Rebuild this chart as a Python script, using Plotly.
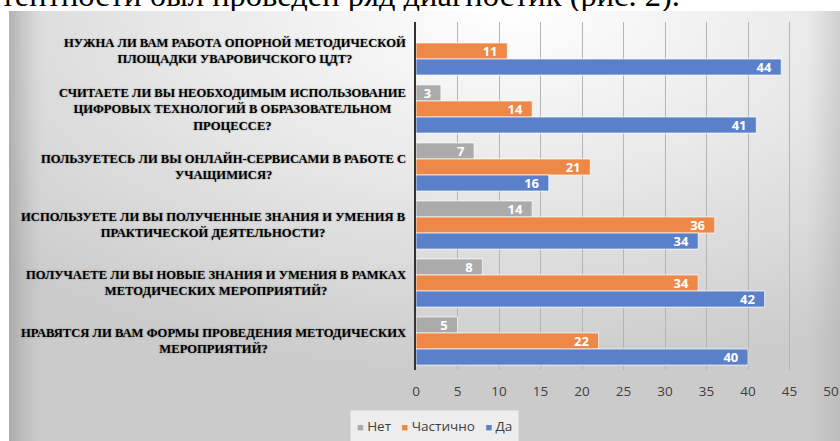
import base64
import plotly.graph_objects as go

# ---------------- data ----------------
categories = [
    "НУЖНА ЛИ ВАМ РАБОТА ОПОРНОЙ МЕТОДИЧЕСКОЙ<br>ПЛОЩАДКИ УВАРОВИЧСКОГО ЦДТ?",
    "СЧИТАЕТЕ ЛИ ВЫ НЕОБХОДИМЫМ ИСПОЛЬЗОВАНИЕ<br>ЦИФРОВЫХ ТЕХНОЛОГИЙ В ОБРАЗОВАТЕЛЬНОМ<br>ПРОЦЕССЕ?",
    "ПОЛЬЗУЕТЕСЬ ЛИ ВЫ ОНЛАЙН-СЕРВИСАМИ В РАБОТЕ С<br>УЧАЩИМИСЯ?",
    "ИСПОЛЬЗУЕТЕ ЛИ ВЫ ПОЛУЧЕННЫЕ ЗНАНИЯ И УМЕНИЯ В<br>ПРАКТИЧЕСКОЙ ДЕЯТЕЛЬНОСТИ?",
    "ПОЛУЧАЕТЕ ЛИ ВЫ НОВЫЕ ЗНАНИЯ И УМЕНИЯ В РАМКАХ<br>МЕТОДИЧЕСКИХ МЕРОПРИЯТИЙ?",
    "НРАВЯТСЯ ЛИ ВАМ ФОРМЫ ПРОВЕДЕНИЯ МЕТОДИЧЕСКИХ<br>МЕРОПРИЯТИЙ?",
]
series_names = ["Нет", "Частично", "Да"]
net = [0, 3, 7, 14, 8, 5]
chastichno = [11, 14, 21, 36, 34, 22]
da = [44, 41, 16, 34, 42, 40]
x_ticks = [0, 5, 10, 15, 20, 25, 30, 35, 40, 45, 50]
doc_text = "компетентности был проведен ряд диагностик (рис. 2)."

colors = ["#ababab", "#ee8847", "#5a80ca"]
W, H = 840, 441

# ---------------- background gradient (chart box) ----------------
svg = (
    "<svg xmlns='http://www.w3.org/2000/svg' width='831' height='430' "
    "viewBox='0 0 831 430' preserveAspectRatio='none'>"
    "<defs>"
    "<radialGradient id='g' cx='0.6' cy='0.0' r='0.85' fx='0.6' fy='0.0'>"
    "<stop offset='0' stop-color='#ffffff'/>"
    "<stop offset='0.45' stop-color='#e9e9e9'/>"
    "<stop offset='1' stop-color='#cbcbcb'/>"
    "</radialGradient>"
    "<linearGradient id='l' x1='0' x2='1' y1='0' y2='0'>"
    "<stop offset='0' stop-color='#8f8f8f' stop-opacity='0.55'/>"
    "<stop offset='0.04' stop-color='#b0b0b0' stop-opacity='0.0'/>"
    "<stop offset='0.96' stop-color='#b0b0b0' stop-opacity='0.0'/>"
    "<stop offset='1' stop-color='#a0a0a0' stop-opacity='0.35'/>"
    "</linearGradient>"
    "</defs>"
    "<rect width='831' height='430' fill='url(#g)'/>"
    "<rect width='831' height='430' fill='url(#l)'/>"
    "</svg>"
)
svg_uri = "data:image/svg+xml;base64," + base64.b64encode(svg.encode("utf-8")).decode()

SERIF = "Liberation Serif"
SANS = "Open Sans, Noto Sans, sans-serif"

fig = go.Figure()

for name, vals, col in zip(series_names, [net, chastichno, da], colors):
    fig.add_trace(go.Bar(
        name=name, y=categories, x=vals, orientation="h",
        marker=dict(color=col, line=dict(color="rgba(255,255,255,0.7)", width=1)),
        text=[(str(v) + "\u00a0\u00a0") if v else "" for v in vals],
        textposition="inside", insidetextanchor="end", textangle=0, constraintext="none",
        textfont=dict(family=SANS, size=13, color="white", weight="bold"),
        xaxis="x", yaxis="y", hoverinfo="skip", showlegend=False,
    ))

# document text strip above the chart (clipped to its own strip)
fig.add_trace(go.Scatter(
    x=[680], y=[13.5], mode="text", text=[doc_text], textposition="middle left",
    textfont=dict(family=SERIF, size=32.5, color="black"),
    xaxis="x2", yaxis="y2", showlegend=False, cliponaxis=True, hoverinfo="skip",
))

annotations = []
for c in categories:
    annotations.append(dict(
        xref="paper", yref="y", x=408 / W, y=c, text=c,
        xanchor="right", yanchor="middle", align="center", showarrow=False,
        font=dict(family=SERIF, size=12.6, color="black", weight="bold",
                  shadow="0px 0px 2px rgba(0,0,0,0.4)"),
    ))

# compact legend built from the series names / colours
legend_parts = [f"<span style='color:{col};font-size:11px'>■</span> {name}"
                for name, col in zip(series_names, colors)]
annotations.append(dict(
    xref="paper", yref="paper", x=434 / W, y=(H - 426) / H,
    xanchor="center", yanchor="middle", showarrow=False,
    text="\u00a0\u00a0\u00a0".join(legend_parts),
    font=dict(family=SANS, size=13.5, color="#404040"),
    bgcolor="rgba(243,243,243,0.85)", borderpad=6,
))

fig.update_layout(
    width=W, height=H, margin=dict(l=0, r=0, t=0, b=0),
    paper_bgcolor="white", plot_bgcolor="rgba(0,0,0,0)",
    barmode="group", bargap=0.17, bargroupgap=0.0,
    images=[dict(source=svg_uri, xref="paper", yref="paper",
                 x=9 / W, y=(H - 11) / H, sizex=(W - 9) / W, sizey=(H - 11) / H,
                 sizing="stretch", xanchor="left", yanchor="top", layer="below")],
    xaxis=dict(domain=[416 / W, 831 / W], range=[0, 50], tickvals=x_ticks,
               showgrid=True, gridcolor="#b5b5b5", gridwidth=1, zeroline=False,
               showline=False, ticks="", ticklabelstandoff=11,
               tickfont=dict(family=SANS, size=13.5, color="#404040"),
               anchor="y", fixedrange=True, automargin=False),
    yaxis=dict(domain=[(H - 370) / H, (H - 22) / H], autorange="reversed",
               categoryorder="array", categoryarray=categories,
               showticklabels=False, showgrid=False, zeroline=False,
               showline=True, linecolor="#333333", linewidth=1.5,
               anchor="x", fixedrange=True, automargin=False),
    xaxis2=dict(domain=[0, 1], range=[0, W], visible=False, anchor="y2", fixedrange=True),
    yaxis2=dict(domain=[(H - 11) / H, 1], range=[0, 11], visible=False, anchor="x2", fixedrange=True),
    annotations=annotations, showlegend=False,
)

fig.write_html("out.html", config={"displayModeBar": False},
               post_script="document.documentElement.style.overflow='hidden';"
                           "document.body.style.margin='0';document.body.style.overflow='hidden';")
